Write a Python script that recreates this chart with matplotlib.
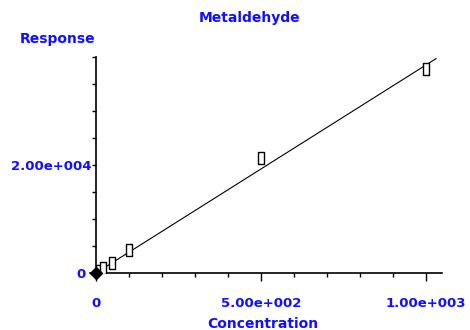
import matplotlib.pyplot as plt
import matplotlib.transforms as mtransforms
from matplotlib.ticker import MultipleLocator, FixedFormatter, FixedLocator

# calibration standards
conc = [10, 20, 50, 100, 500, 1000]
resp = [450, 900, 1900, 4300, 21300, 37700]
# fitted curve endpoints
fit_x = [0, 1030]
fit_y = [0, 39700]

BLUE = "#1010ff"
W, H = 470, 330

fig = plt.figure(figsize=(W / 100, H / 100), dpi=100)
ax = fig.add_axes([90 / W, 1 - 273 / H, 352 / W, 216 / H])

ax.plot(fit_x, fit_y, color="black", lw=0.8, zorder=2)
rect = [(-1, -2), (1, -2), (1, 2), (-1, 2), (-1, -2)]
ax.plot(conc, resp, ls="none", marker=rect, markersize=9, mfc="white",
        mec="black", mew=1.0, zorder=3)
ax.plot([0], [0], ls="none", marker="D", markersize=6.5, color="black",
        zorder=4, clip_on=False)

ax.set_xlim(-18, 1048)
ax.set_ylim(0, 40000)

for s in ["top", "right"]:
    ax.spines[s].set_visible(False)
ax.spines["left"].set_position(("data", 0))
ax.spines["left"].set_linewidth(1.2)
ax.spines["bottom"].set_linewidth(1.2)

ax.xaxis.set_major_locator(FixedLocator([0, 500, 1000]))
ax.xaxis.set_major_formatter(FixedFormatter(["0", "5.00e+002", "1.00e+003"]))
ax.xaxis.set_minor_locator(MultipleLocator(100))
ax.yaxis.set_major_locator(FixedLocator([0, 20000]))
ax.yaxis.set_major_formatter(FixedFormatter(["0", "2.00e+004"]))
ax.yaxis.set_minor_locator(MultipleLocator(5000))

ax.tick_params(axis="x", which="major", length=6, width=1, direction="out",
               pad=11, labelsize=9.5, labelcolor=BLUE)
ax.tick_params(axis="x", which="minor", length=3, width=1, direction="out")
ax.tick_params(axis="y", which="both", length=3, width=1, direction="out",
               pad=0.5, labelsize=9.5, labelcolor=BLUE)
for lab in ax.get_xticklabels() + ax.get_yticklabels():
    lab.set_fontweight("bold")

# push the y "0" label clear of the origin marker
zero_lab = ax.get_yticklabels()[0]
zero_lab.set_transform(zero_lab.get_transform()
                       + mtransforms.ScaledTranslation(-5 / 100, 0, fig.dpi_scale_trans))

fig.text(263 / W, 1 - 324 / H, "Concentration", color=BLUE, fontsize=10,
         fontweight="bold", ha="center", va="center")
fig.text(58 / W, 1 - 39 / H, "Response", color=BLUE, fontsize=10,
         fontweight="bold", ha="center", va="center")
fig.text(250 / W, 1 - 18 / H, "Metaldehyde", color=BLUE, fontsize=10,
         fontweight="bold", ha="center", va="center")

fig.savefig("out.png", dpi=100)
